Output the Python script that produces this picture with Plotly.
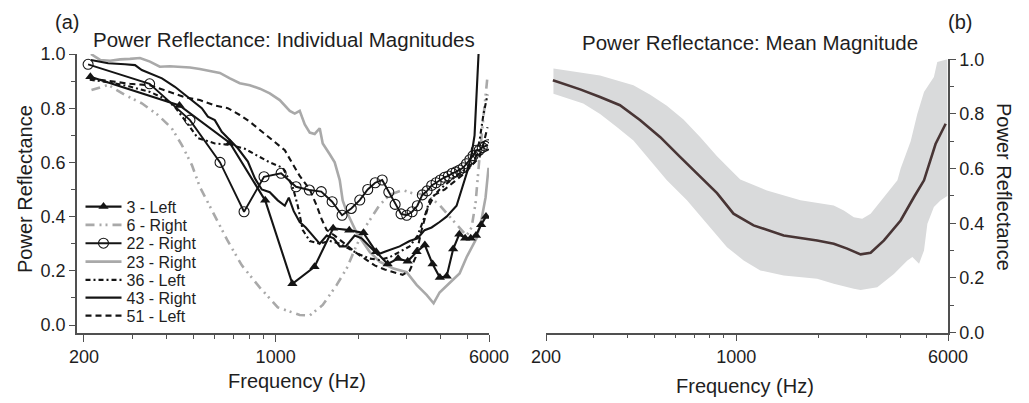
import math
import plotly.graph_objects as go

# ---------------- Panel (a): individual magnitudes ----------------
F_3L = [211, 446, 681, 916, 1151, 1386, 1621, 1856, 2091, 2326, 2561, 2796, 3031,
        3266, 3501, 3736, 3971, 4206, 4441, 4676, 4911, 5146, 5381, 5616, 5851]
R_3L = [0.916, 0.81, 0.672, 0.46, 0.152, 0.215, 0.357, 0.35, 0.34, 0.27, 0.225, 0.245, 0.235,
        0.27, 0.295, 0.225, 0.175, 0.18, 0.28, 0.335, 0.32, 0.32, 0.33, 0.37, 0.40]

F_6R = [213, 245, 282, 325, 372, 418, 455, 495, 529, 600, 669, 753, 876, 1018, 1224, 1332,
        1485, 1670, 1816, 1975, 2147, 2395, 2605, 2906, 3159, 3553, 3962, 4308, 4686, 4970,
        5184, 5360, 5542, 5732, 5928]
R_6R = [0.867, 0.886, 0.849, 0.818, 0.775, 0.726, 0.664, 0.59, 0.51, 0.40, 0.31, 0.22, 0.138,
        0.065, 0.037, 0.035, 0.074, 0.148, 0.209, 0.295, 0.369, 0.443, 0.48, 0.498, 0.486,
        0.48, 0.443, 0.40, 0.36, 0.33, 0.36, 0.45, 0.62, 0.78, 0.92]

F_22R = [207, 347, 487, 627, 767, 907, 1047, 1187, 1327, 1467, 1607, 1747, 1887, 2027, 2167,
         2307, 2447, 2587, 2727, 2867, 3007, 3147, 3287, 3427, 3567, 3707, 3847, 3987, 4127,
         4267, 4407, 4547, 4687, 4827, 4967, 5107, 5247, 5387, 5527, 5667, 5807, 5947]
R_22R = [0.962, 0.89, 0.756, 0.60, 0.418, 0.547, 0.56, 0.51, 0.498, 0.492, 0.455, 0.405, 0.43,
         0.461, 0.50, 0.525, 0.535, 0.49, 0.445, 0.41, 0.405, 0.418, 0.44, 0.48, 0.495, 0.515,
         0.525, 0.535, 0.545, 0.55, 0.56, 0.565, 0.572, 0.58, 0.595, 0.61, 0.625, 0.645, 0.645,
         0.655, 0.66, 0.665]

F_23R = [212, 229, 249, 271, 294, 320, 348, 378, 411, 448, 487, 529, 575, 626, 681, 740, 805,
         876, 952, 1035, 1126, 1174, 1224, 1277, 1332, 1388, 1448, 1485, 1575, 1642, 1713,
         1756, 1816, 1975, 2203, 2395, 2672, 3004, 3267, 3553, 3768, 3962, 4308, 4686, 4970,
         5404, 5636, 5828, 5976]
R_23R = [1.0, 0.978, 0.975, 0.98, 0.982, 0.985, 0.972, 0.953, 0.955, 0.953, 0.95, 0.945, 0.938,
         0.93, 0.91, 0.892, 0.885, 0.872, 0.855, 0.83, 0.79, 0.78, 0.79, 0.74, 0.71, 0.705,
         0.726, 0.67, 0.63, 0.60, 0.535, 0.46, 0.418, 0.34, 0.27, 0.234, 0.209, 0.195, 0.148,
         0.111, 0.08, 0.12, 0.155, 0.19, 0.25, 0.32, 0.39, 0.47, 0.58]

F_36L = [210, 249, 294, 348, 395, 429, 479, 520, 600, 681, 772, 861, 952, 1062, 1154, 1204,
         1256, 1332, 1448, 1575, 1713, 1862, 2025, 2203, 2395, 2605, 2833, 3080, 3295, 3494,
         3644, 3962, 4308, 4686, 5012, 5315, 5542, 5732, 5928]
R_36L = [0.905, 0.895, 0.88, 0.86, 0.835, 0.805, 0.74, 0.69, 0.67, 0.665, 0.65, 0.625, 0.60,
         0.58, 0.51, 0.44, 0.35, 0.31, 0.30, 0.31, 0.30, 0.28, 0.26, 0.245, 0.24, 0.25, 0.27,
         0.29, 0.33, 0.40, 0.46, 0.50, 0.53, 0.56, 0.58, 0.60, 0.68, 0.78, 0.85]

F_43R = [212, 245, 282, 307, 325, 354, 385, 429, 479, 538, 566, 600, 636, 669, 728, 792, 840,
         890, 952, 1018, 1080, 1117, 1164, 1224, 1288, 1366, 1448, 1536, 1629, 1713, 1801,
         1942, 2060, 2203, 2356, 2499, 2649, 2833, 3080, 3295, 3494, 3705, 3962, 4202, 4570,
         4806, 5012, 5183, 5315, 5496]
R_43R = [0.978, 0.966, 0.962, 0.959, 0.941, 0.925, 0.91, 0.879, 0.842, 0.80, 0.769, 0.756,
         0.713, 0.689, 0.652, 0.603, 0.541, 0.50, 0.49, 0.46, 0.44, 0.47, 0.42, 0.38, 0.36,
         0.33, 0.30, 0.33, 0.32, 0.29, 0.29, 0.33, 0.32, 0.29, 0.26, 0.27, 0.28, 0.29, 0.31,
         0.32, 0.35, 0.36, 0.38, 0.40, 0.44, 0.51, 0.57, 0.63, 0.70, 1.0]

F_51L = [210, 249, 294, 348, 411, 467, 529, 600, 669, 740, 805, 890, 993, 1080, 1145, 1224,
         1332, 1412, 1472, 1536, 1642, 1786, 1942, 2112, 2297, 2499, 2717, 2905, 3080, 3240,
         3406, 3583, 3800, 4132, 4494, 4887, 5315, 5542, 5732, 5928]
R_51L = [0.91, 0.90, 0.89, 0.885, 0.86, 0.84, 0.83, 0.81, 0.80, 0.775, 0.75, 0.715, 0.675,
         0.645, 0.60, 0.55, 0.50, 0.44, 0.39, 0.35, 0.33, 0.30, 0.27, 0.245, 0.22, 0.205,
         0.195, 0.185, 0.20, 0.25, 0.35, 0.43, 0.48, 0.50, 0.53, 0.56, 0.60, 0.62, 0.67, 0.73]

# ---------------- Panel (b): mean magnitude ----------------
MEAN_F = [212, 267, 316, 374, 444, 526, 623, 738, 850, 977, 1158, 1494, 1983, 2282, 2557,
          2864, 3118, 3491, 4019, 4500, 4898, 5400, 5883]
MEAN_R = [0.923, 0.89, 0.862, 0.832, 0.777, 0.715, 0.642, 0.569, 0.51, 0.435, 0.392, 0.355,
          0.337, 0.325, 0.307, 0.286, 0.292, 0.337, 0.41, 0.496, 0.557, 0.69, 0.764]

UPPER_F = [213, 316, 419, 483, 556, 640, 738, 850, 977, 1035, 1297, 1722, 2282, 2485, 2705,
           2904, 3118, 3491, 3911, 4019, 4375, 4627, 4898, 5325, 5479, 5966]
UPPER_R = [0.966, 0.941, 0.905, 0.87, 0.83, 0.78, 0.715, 0.645, 0.585, 0.56, 0.52, 0.484,
           0.465, 0.447, 0.422, 0.416, 0.435, 0.496, 0.557, 0.60, 0.70, 0.80, 0.88, 0.935,
           0.99, 1.0]

LOWER_F = [213, 274, 316, 364, 419, 483, 556, 659, 780, 925, 1065, 1226, 1494, 1983, 2282,
           2705, 2864, 3298, 3796, 4254, 4439, 4696, 4898, 5040, 5325, 5640, 5966]
LOWER_R = [0.874, 0.838, 0.80, 0.752, 0.703, 0.63, 0.557, 0.484, 0.398, 0.312, 0.264, 0.227,
           0.209, 0.197, 0.178, 0.16, 0.156, 0.166, 0.214, 0.264, 0.276, 0.252, 0.30, 0.398,
           0.459, 0.484, 0.50]

Y_TICKS = [0.0, 0.2, 0.4, 0.6, 0.8, 1.0]
Y_MINOR = [0.1, 0.3, 0.5, 0.7, 0.9]
X_TICKS = [200, 1000, 6000]
X_MINOR = [300, 400, 500, 600, 700, 800, 900, 2000, 3000, 4000, 5000]

# ---------------- figure ----------------
OFF = 8                      # default page body margin
W, H = 1029 - OFF, 403 - OFF
FONT = "Liberation Sans, Arial, Helvetica, sans-serif"
TXT = "#1e1e1e"
BLACK = "#141414"
GRAY = "#a9a9a9"
AX = "#505050"

fig = go.Figure()

series = [
    # name, f, r, color, dash, width, mode, marker, legend
    ("23 - Right", F_23R, R_23R, GRAY, "solid", 2.6, "lines", None, "legend4"),
    ("6 - Right", F_6R, R_6R, GRAY, "9px,5px,2px,4px,2px,5px", 2.6, "lines", None, "legend2"),
    ("51 - Left", F_51L, R_51L, BLACK, "6px,4px", 2.1, "lines", None, "legend7"),
    ("36 - Left", F_36L, R_36L, BLACK, "5px,3px,2px,3px", 2.1, "lines", None, "legend5"),
    ("43 - Right", F_43R, R_43R, BLACK, "solid", 2.1, "lines", None, "legend6"),
    ("22 - Right", F_22R, R_22R, BLACK, "solid", 1.9, "lines+markers",
     dict(symbol="circle-open", size=10, color=BLACK, line=dict(width=1.1)), "legend3"),
    ("3 - Left", F_3L, R_3L, BLACK, "solid", 2.1, "lines+markers",
     dict(symbol="triangle-up", size=9, color=BLACK), "legend"),
]
for name, f, r, col, dash, wd, mode, mk, lg in series:
    kw = dict(x=f, y=r, name=name, mode=mode, legend=lg,
              line=dict(color=col, width=wd, dash=dash), xaxis="x", yaxis="y")
    if mk:
        kw["marker"] = mk
    fig.add_trace(go.Scatter(**kw))

# band (closed polygon from the upper and lower edges)
fig.add_trace(go.Scatter(x=UPPER_F + LOWER_F[::-1], y=UPPER_R + LOWER_R[::-1],
                         fill="toself", fillcolor="#d9dadb", line=dict(width=0),
                         mode="lines", showlegend=False, xaxis="x2", yaxis="y2",
                         hoverinfo="skip"))
fig.add_trace(go.Scatter(x=MEAN_F, y=MEAN_R, mode="lines", showlegend=False,
                         line=dict(color="#483535", width=2.6), xaxis="x2", yaxis="y2"))


def px(x):
    return (x - OFF) / W


def py(y):
    return 1 - (y - OFF) / H


xcommon = dict(type="log", showline=True, linecolor=AX, linewidth=1.5, ticks="outside",
               tickcolor=AX, tickwidth=1.3, ticklen=7, tickvals=X_TICKS,
               ticktext=[str(v) for v in X_TICKS], showgrid=False, zeroline=False,
               automargin=False,
               tickfont=dict(family=FONT, size=18, color=TXT),
               minor=dict(tickvals=X_MINOR, ticks="outside", ticklen=4, tickcolor=AX,
                          tickwidth=1.2, showgrid=False))
ycommon = dict(showline=True, linecolor=AX, linewidth=1.5, ticks="outside", tickcolor=AX,
               tickwidth=1.3, ticklen=6, tickvals=Y_TICKS,
               ticktext=["%.1f" % v for v in Y_TICKS], showgrid=False, zeroline=False,
               automargin=False,
               tickfont=dict(family=FONT, size=18, color=TXT),
               minor=dict(tickvals=Y_MINOR, ticks="outside", ticklen=4, tickcolor=AX,
                          tickwidth=1.2, showgrid=False))

lx0 = math.log10(200) - 7 / 274.5
layout = dict(
    width=W, height=H, margin=dict(l=0, r=0, t=0, b=0, autoexpand=False),
    paper_bgcolor="white", plot_bgcolor="white",
    font=dict(family=FONT, color=TXT),
    xaxis=dict(xcommon, domain=[px(77), px(489)], range=[lx0, math.log10(6000)], anchor="y"),
    yaxis=dict(ycommon, domain=[py(333), py(54)], range=[-0.0295, 1.0], anchor="x"),
    xaxis2=dict(xcommon, domain=[px(546), px(948)],
                range=[math.log10(200), math.log10(6000)], anchor="y2"),
    yaxis2=dict(ycommon, domain=[py(332.5), py(59.3)], range=[0, 1.0], anchor="x2",
                side="right"),
)

rows = {"legend": 206.7, "legend2": 225.0, "legend3": 243.3, "legend4": 261.7,
        "legend5": 280.0, "legend6": 297.7, "legend7": 315.7}
for key, yc in rows.items():
    layout[key] = dict(x=px(80.5), y=py(yc), xanchor="left", yanchor="middle",
                       bgcolor="rgba(0,0,0,0)", borderwidth=0, itemwidth=36,
                       font=dict(family=FONT, size=16, color=TXT))

ann = []


def label(text, x, y, size=20, angle=0):
    ann.append(dict(text=text, x=px(x), y=py(y), xref="paper", yref="paper",
                    xanchor="center", yanchor="middle", showarrow=False, textangle=angle,
                    font=dict(family=FONT, size=size, color=TXT)))


label("(a)", 67, 22)
label("(b)", 960, 22)
label("Power Reflectance: Individual Magnitudes", 284, 40, size=20.5)
label("Power Reflectance: Mean Magnitude", 750, 42, size=20.5)
label("Frequency (Hz)", 297, 381)
label("Frequency (Hz)", 745, 386)
label("Power Reflectance", 25, 189, angle=-90)
label("Power Reflectance", 1004, 187, angle=90)
layout["annotations"] = ann

fig.update_layout(**layout)
fig.write_html("out.html")
